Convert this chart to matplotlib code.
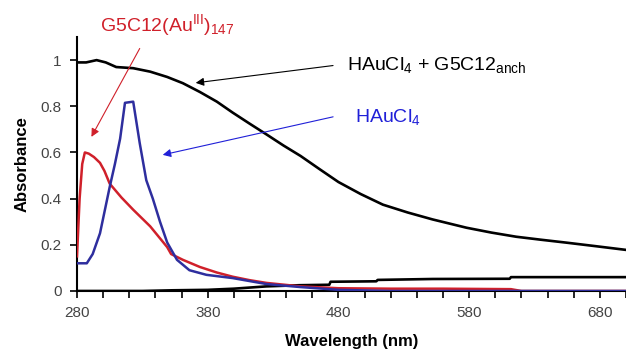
import numpy as np
import matplotlib
matplotlib.use('Agg')
import matplotlib.pyplot as plt

plt.rcParams['font.family'] = ['Liberation Sans', 'DejaVu Sans']
plt.rcParams['mathtext.fontset'] = 'custom'
plt.rcParams['mathtext.rm'] = 'Liberation Sans'
plt.rcParams['mathtext.it'] = 'Liberation Sans:italic'

# ── spectra (wavelength nm, absorbance) ───────────────────────────────────
wl_mix = [280, 287, 295, 302, 310, 323, 336, 349, 361, 374, 387, 399, 412,
          425, 438, 451, 465, 480, 497, 514, 533, 552, 578, 597, 616, 635,
          655, 677, 700]
ab_mix = [0.99, 0.99, 1.0, 0.99, 0.97, 0.965, 0.95, 0.927, 0.90, 0.862,
          0.82, 0.773, 0.725, 0.678, 0.63, 0.585, 0.53, 0.472, 0.42, 0.374,
          0.34, 0.31, 0.274, 0.253, 0.235, 0.222, 0.209, 0.194, 0.178]

wl_base = [280, 330, 353, 380, 400, 425, 450, 473, 474, 509, 510, 552, 611,
           612, 700]
ab_base = [0.0, 0.0, 0.003, 0.005, 0.01, 0.02, 0.025, 0.027, 0.04, 0.042,
           0.048, 0.052, 0.053, 0.06, 0.06]

wl_g5 = [280, 282, 284, 286, 289, 293, 297.6, 301, 305, 314, 323, 336, 349,
         352, 361, 374, 387, 399, 412, 425, 451, 480, 520, 560, 612, 620, 700]
ab_g5 = [0.15, 0.40, 0.55, 0.60, 0.595, 0.58, 0.555, 0.52, 0.465, 0.405,
         0.352, 0.28, 0.19, 0.16, 0.135, 0.104, 0.08, 0.062, 0.047, 0.035,
         0.02, 0.012, 0.01, 0.01, 0.008, 0.0, 0.0]

wl_hau = [280, 287.5, 292, 297.6, 305, 309, 313, 316.7, 323, 328, 333, 338,
          343.5, 349, 356.5, 366, 379, 399, 425, 451, 480, 520, 700]
ab_hau = [0.12, 0.12, 0.16, 0.25, 0.45, 0.55, 0.66, 0.815, 0.82, 0.64, 0.48,
          0.40, 0.30, 0.21, 0.135, 0.09, 0.07, 0.056, 0.03, 0.017, 0.005,
          0.0, 0.0]

RED = '#d0202a'
BLUE = '#2e2e9e'
TXT_BLUE = '#2020d8'

fig = plt.figure(figsize=(6.26, 3.56), dpi=100)
ax = fig.add_axes([0.123, 0.1826, 0.877, 0.7134])

ax.plot(wl_mix, ab_mix, color='black', lw=1.9, zorder=3)
ax.plot(wl_base, ab_base, color='black', lw=1.9, zorder=3)
ax.plot(wl_g5, ab_g5, color=RED, lw=1.8, zorder=4)
ax.plot(wl_hau, ab_hau, color=BLUE, lw=1.8, zorder=5)

ax.set_xlim(280, 700)
ax.set_ylim(0, 1.1)
ax.set_xticks(np.arange(280, 701, 20))
ax.set_xticklabels([str(v) if (v - 280) % 100 == 0 else '' for v in range(280, 701, 20)])
ax.set_yticks([0, 0.2, 0.4, 0.6, 0.8, 1.0])
ax.set_yticklabels(['0', '0.2', '0.4', '0.6', '0.8', '1'])
ax.tick_params(direction='out', length=5, width=1.2, labelsize=11,
               labelcolor='#444444', pad=6)
for s in ['top', 'right']:
    ax.spines[s].set_visible(False)
for s in ['left', 'bottom']:
    ax.spines[s].set_linewidth(1.5)

ax.set_xlabel('Wavelength (nm)', fontsize=12, fontweight='bold', labelpad=10)
ax.set_ylabel('Absorbance', fontsize=12, fontweight='bold', labelpad=8)

# labels and arrows
ax.text(297.6, 1.152, r'G5C12(Au$^{\mathrm{III}}$)$_{147}$', color=RED,
        fontsize=14, va='center', ha='left', clip_on=False)
ax.annotate('', xy=(290, 0.657), xytext=(329, 1.061),
            arrowprops=dict(arrowstyle='-|>', color=RED, lw=0.8,
                            mutation_scale=12), annotation_clip=False)

ax.text(486.5, 0.978, r'HAuCl$_4$ + G5C12$_{\mathrm{anch}}$', color='black',
        fontsize=14, va='center', ha='left')
ax.annotate('', xy=(368.7, 0.90), xytext=(478, 0.978),
            arrowprops=dict(arrowstyle='-|>', color='black', lw=0.8,
                            mutation_scale=12))

ax.text(493, 0.752, r'HAuCl$_4$', color=TXT_BLUE, fontsize=14,
        va='center', ha='left')
ax.annotate('', xy=(343.5, 0.587), xytext=(478, 0.757),
            arrowprops=dict(arrowstyle='-|>', color=TXT_BLUE, lw=0.8,
                            mutation_scale=12))

fig.savefig('out.png', dpi=100)
